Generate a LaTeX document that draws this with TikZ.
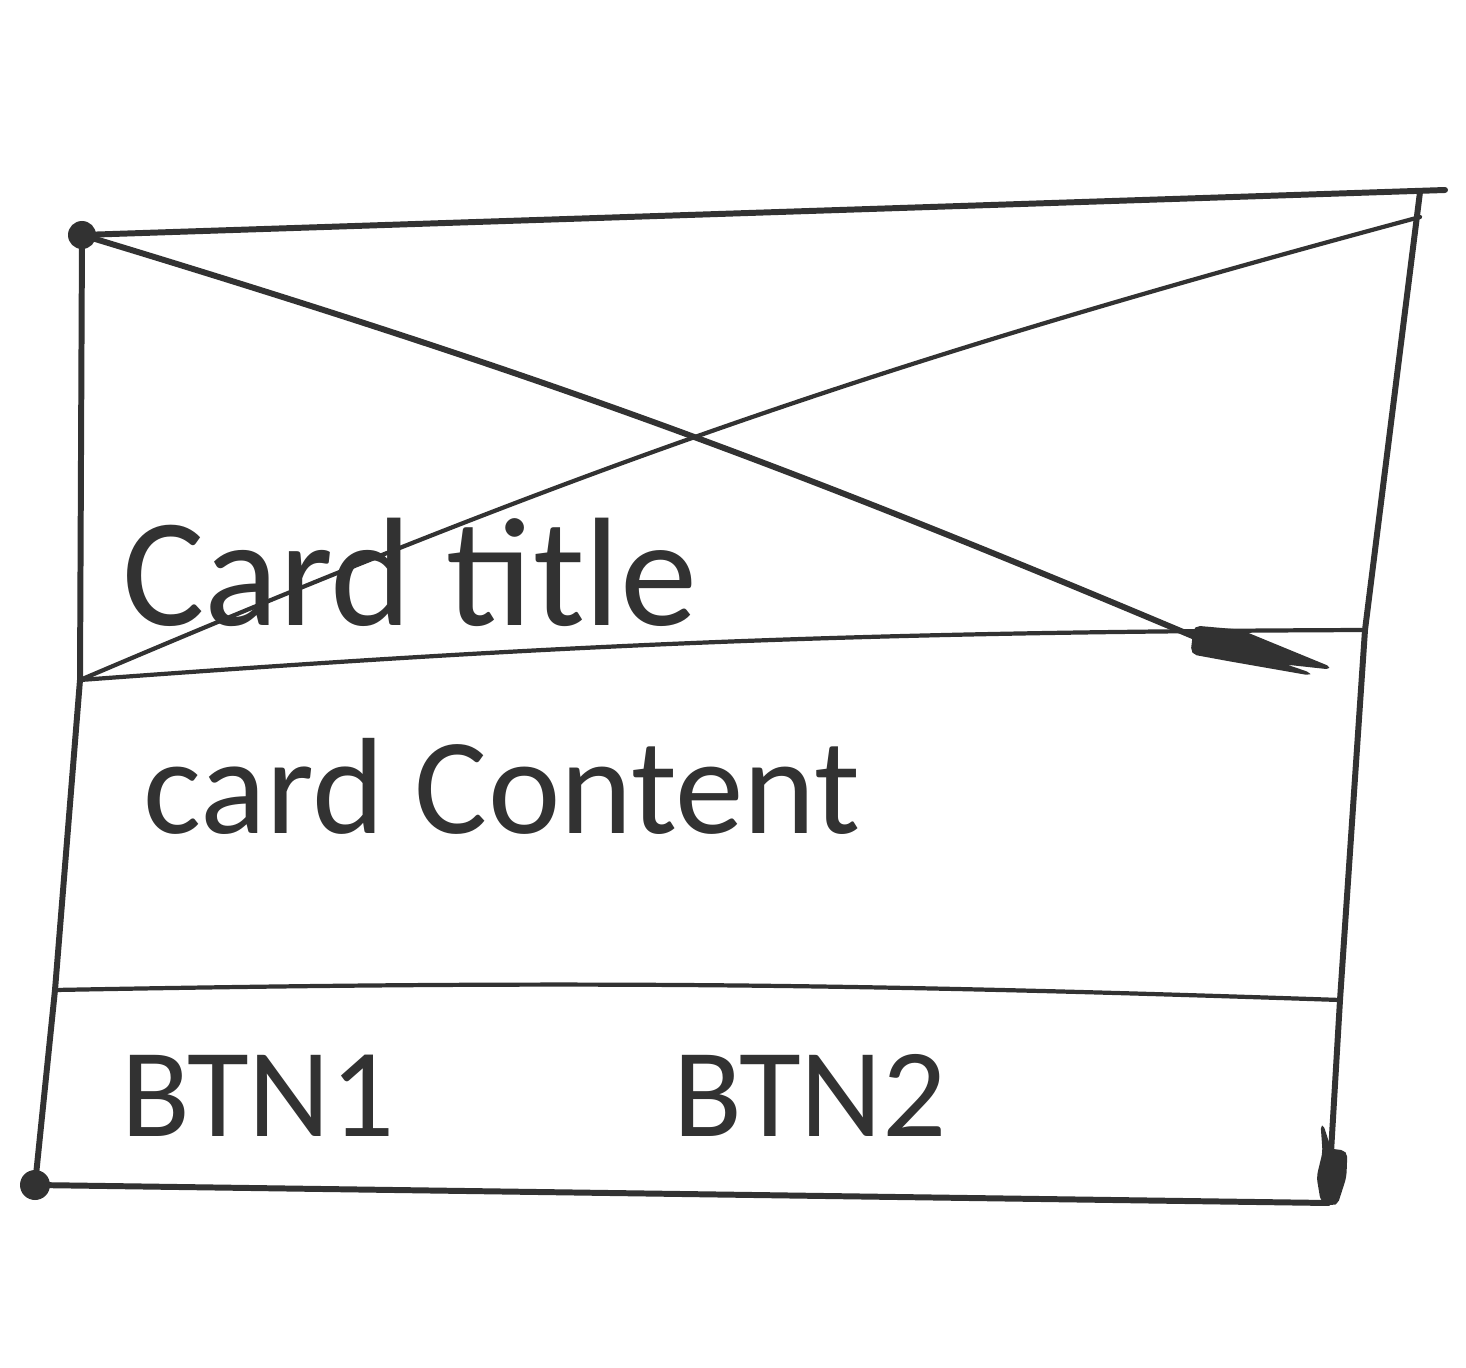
\documentclass[tikz,border=0pt]{standalone}
\usepackage{fontspec}
\setmainfont{Carlito}
\usetikzlibrary{calc}
\definecolor{ink}{RGB}{50,50,50}
\tikzset{
    pen/.style = {
        draw = ink,
        line width = 1.7pt,
        line cap = round,
        line join = round,
        },
    thin pen/.style = {
        pen,
        line width = 1.2pt,
        },
    blob/.style = {
        fill = ink,
        draw = ink,
        line width = 0.8pt,
        rounded corners = 1.5pt,
        },
    label big/.style = {
        anchor = base,
        text = ink,
        font = \fontsize{44}{48}\selectfont,
        },
    label mid/.style = {
        label big,
        font = \fontsize{39}{44}\selectfont,
        },
    label btn/.style = {
        label big,
        font = \fontsize{36}{40}\selectfont,
        },
}

\begin{document}
\begin{tikzpicture}
    \useasboundingbox (0,0) rectangle (14.66,13.67);
    \fill[white] (0,0) rectangle (14.66,13.67);

    % corners of the card
    \coordinate (TL) at (0.82,11.32);
    \coordinate (TE) at (14.45,11.77);
    \coordinate (TR) at (14.20,11.75);
    \coordinate (XR) at (14.20,11.50);
    \coordinate (TitleL) at (0.80,6.87);
    \coordinate (TitleR) at (13.65,7.37);
    \coordinate (BtnL) at (0.55,3.77);
    \coordinate (BtnR) at (13.40,3.67);
    \coordinate (BL) at (0.35,1.82);
    \coordinate (BR) at (13.28,1.64);
    \coordinate (ArrowS) at (11.95,7.30);

    % frame
    \draw[pen] (TL) -- (TE);
    \draw[pen] (TL) -- (TitleL) -- (BtnL) -- (BL);
    \draw[pen] (TR) -- (TitleR) -- (BtnR) -- (BR);
    \draw[pen] (BL) -- (BR);

    % section lines
    \draw[thin pen] (TitleL) to[bend left=2] (TitleR);
    \draw[thin pen] (BtnL) to[bend left=1.5] (BtnR);

    % image placeholder cross
    \draw[pen] (TL) to[bend left=3] (ArrowS);
    \draw[thin pen] (TitleL) to[bend left=4] (XR);
    \filldraw[blob] (11.95,7.40) -- (12.40,7.36) -- (13.30,6.99) -- (12.75,7.05)
        -- (13.10,6.93) -- (12.30,7.07) -- (11.92,7.14) -- cycle;

    % ink blots at the corners
    \fill[ink] (TL) circle (0.14);
    \fill[ink] (BL) circle (0.15);
    \filldraw[blob] (13.22,2.42) -- (13.30,2.17) -- (13.46,2.15) -- (13.45,1.90)
        -- (13.36,1.62) -- (13.22,1.66) -- (13.18,1.90) -- (13.24,2.15) -- cycle;

    % texts
    \node[label big] (title) at (4.10,7.42) {Card title};
    \node[label mid] (content) at (5.02,5.34) {card Content};
    \node[label btn] (btn1) at (2.58,2.31) {BTN1};
    \node[label btn] (btn2) at (8.10,2.31) {BTN2};
\end{tikzpicture}
\end{document}
